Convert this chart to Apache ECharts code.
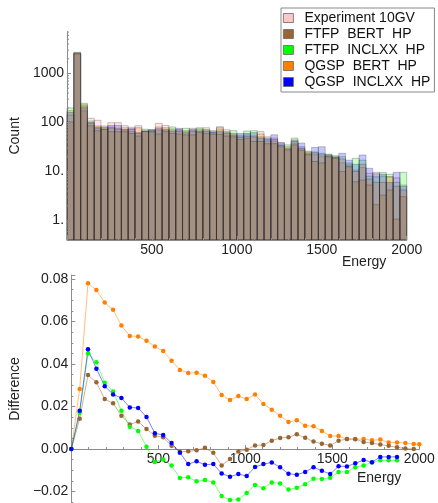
<!DOCTYPE html>
<html><head><meta charset="utf-8">
<script src="https://cdn.jsdelivr.net/npm/echarts@6/dist/echarts.min.js"></script>
<style>html,body{margin:0;padding:0;background:#fff}#c{width:438px;height:503px}</style>
</head><body><div id="c"></div>
<script>
// ---------- data ----------
const seriesNames = ['Experiment 10GV', 'FTFP  BERT  HP', 'FTFP  INCLXX  HP', 'QGSP  BERT  HP', 'QGSP  INCLXX  HP'];
const binWidth = 40; // histogram bins 0..2000
const countExperiment = [142,2600,172,122,111,85,99,99,86,80,86,68,66,96,87,74,72,65,76,74,78,61,82,71,60,51,56,50,65,51,48,38,30,38,32,24,22,20,20,19,15,14,10.7,12,9.2,9.6,8,7.8,7.4,5.3];
const countFtfpBert   = [103,2500,217,86,68,72,65,65,65,60,53,65,64,58,65,60,58,56,56,63,60,57,57,53,51,45,48,41,41,37,37,32,27.5,35,27,22,16,15,20,18.6,10,12.5,6.2,6.7,5.3,2.1,3.3,4.2,1.07,3.06];
const countFtfpInclxx = [198,2650,246,107,76,78,76,72,70,66,60,73,70,70,72,81,65,76,68,78,72,64,71,65,68,55,67,68,51,45,42,35,35,48,30,26,25,23.5,22.5,21,20,15,18.6,17,8,7.8,9.5,8.8,6,9.6];
const countQgspBert   = [174,2700,230,96,85,80,80,76,78,72,78,66,68,81,78,70,68,68,65,70,68,62,78,62,58,50,52,53,58,42,45,34,32,41,29,25,24,22,21,20,18,13,10,14,7,6,6,7.8,5,4.2];
const countQgspInclxx = [160,2550,200,100,80,74,87,87,72,75,62,66,72,75,70,66,76,62,72,66,66,68,65,60,55,60,60,62,48,48,56,39,29,44,38,23,31,32,22,19.5,23.5,17,14,21.7,11.6,9,8.8,6,9.6,5];

const diffEnergy = [0,48,96,144,192,240,288,336,384,432,480,528,576,624,672,720,768,816,864,912,960,1008,1056,1104,1152,1200,1248,1296,1344,1392,1440,1488,1536,1584,1632,1680,1728,1776,1824,1872,1920,1968,2000];
const diffFtfpBert   = [0,0.0143,0.0348,0.0314,0.0235,0.0215,0.0157,0.0116,0.0129,0.0094,0.0063,0.0055,0.0016,-0.0013,-0.0011,-0.0006,0.0006,-0.0018,-0.0077,-0.0047,-0.0012,-0.0003,0.0017,0.0019,0.0039,0.0052,0.0056,0.0069,0.0053,0.0035,0.0025,0.0017,0.0039,0.0047,0.0046,0.0033,0.0028,0.0021,0.0015,0.0008,0.0002,0];
const diffFtfpInclxx = [0,0.0171,0.045,0.0408,0.0312,0.0271,0.018,0.0105,0.0085,0.0011,-0.0061,-0.0049,-0.0078,-0.0136,-0.0133,-0.0152,-0.0146,-0.0157,-0.0221,-0.024,-0.0238,-0.0207,-0.0169,-0.0184,-0.0157,-0.0162,-0.019,-0.0182,-0.0166,-0.014,-0.0141,-0.0135,-0.0108,-0.0108,-0.0086,-0.0077,-0.0063,-0.0053,-0.0053,-0.0053];
const diffQgspBert   = [0,0.0283,0.078,0.0748,0.0689,0.0656,0.0581,0.0532,0.053,0.051,0.0482,0.0461,0.0416,0.0372,0.0358,0.0359,0.0345,0.0315,0.0254,0.0231,0.0249,0.0235,0.0257,0.0212,0.0185,0.0157,0.0127,0.0135,0.011,0.0107,0.0085,0.0061,0.0061,0.0047,0.0047,0.0047,0.0041,0.0045,0.0031,0.0031,0.0028,0.0024,0.0022];
const diffQgspInclxx = [0,0.018,0.0469,0.0378,0.0296,0.0257,0.024,0.0196,0.0193,0.0151,0.0074,0.0066,0.0028,-0.0017,-0.0071,-0.0058,-0.0074,-0.0071,-0.0115,-0.013,-0.0118,-0.0127,-0.0085,-0.0071,-0.0063,-0.0086,-0.0116,-0.0121,-0.0108,-0.0086,-0.0102,-0.0118,-0.0081,-0.0082,-0.0067,-0.0052,-0.0062,-0.0037,-0.0037,-0.0037];

const energyTicks = [500, 1000, 1500, 2000];
const countTickLabels = {1: '1.', 10: '10.', 100: '100', 1000: '1000'};

// ---------- styling ----------
const FONT = "'Liberation Sans', Arial, sans-serif";
const colors = {
  exp: 'rgb(255,200,200)', fb: 'rgb(153,102,51)', fi: 'rgb(0,255,0)', qb: 'rgb(255,128,0)', qi: 'rgb(0,0,255)'
};
const fills = {
  exp: 'rgba(255,170,180,0.30)', fb: 'rgba(153,102,51,0.28)', fi: 'rgba(0,255,0,0.22)', qb: 'rgba(255,128,0,0.25)', qi: 'rgba(0,0,255,0.22)'
};
const yMinTop = 0.4, yMaxTop = 7129;
const yMinDiff = -0.0254, yMaxDiff = 0.0819;

function hist(name, key, values) {
  return {
    type: 'custom', name: name, xAxisIndex: 0, yAxisIndex: 0, silent: true,
    itemStyle: { color: colors[key] },
    data: values.map((v, i) => [i * binWidth, (i + 1) * binWidth, v]),
    encode: { x: [0, 1], y: 2 },
    renderItem: function (params, api) {
      const p0 = api.coord([api.value(0), api.value(2)]);
      const p1 = api.coord([api.value(1), yMinTop]);
      return {
        type: 'rect',
        shape: { x: p0[0], y: p0[1], width: p1[0] - p0[0], height: p1[1] - p0[1] },
        style: { fill: fills[key], stroke: 'rgba(40,40,40,0.35)', lineWidth: 0.8 }
      };
    }
  };
}

// log-axis tick marks (major decades + minor 2..9)
const logTickVals = [];
for (let d = -1; d <= 3; d++) for (let m = 1; m <= 9; m++) {
  const v = m * Math.pow(10, d);
  if (v >= yMinTop && v <= yMaxTop) logTickVals.push([0, v, m === 1 ? 1 : 0]);
}

function diffLine(name, color, values) {
  return {
    type: 'line', name: name, xAxisIndex: 1, yAxisIndex: 1, silent: true,
    data: values.map((v, i) => [diffEnergy[i], v]),
    symbol: 'circle', symbolSize: 4.5, showSymbol: true,
    lineStyle: { color: color, width: 1, opacity: 0.5 },
    itemStyle: { color: color }
  };
}

const axisGray = '#8c8c8c';
const labelStyle = { color: '#222', fontSize: 14, fontFamily: FONT };
const diffGridTop = 275, diffGridHeight = 228;
// place bottom x axis on the zero line
const zeroOffset = -diffGridHeight * (0 - yMinDiff) / (yMaxDiff - yMinDiff);

const option = {
  animation: false,
  backgroundColor: '#fff',
  textStyle: { fontFamily: FONT },
  grid: [
    { left: 60.5, top: 31.7, width: 346.2, height: 208.3 },
    { left: 53.3, top: diffGridTop, width: 366, height: diffGridHeight }
  ],
  legend: {
    orient: 'vertical', left: 281, top: 8,
    data: seriesNames, icon: 'rect', itemWidth: 10, itemHeight: 9, itemGap: 2,
    padding: [3, 4, 3, 2], borderColor: '#888', borderWidth: 1,
    itemStyle: { borderColor: '#666', borderWidth: 0.8 },
    textStyle: { fontSize: 14, color: '#111', fontFamily: FONT, padding: [0, 0, 0, 6] },
    selectedMode: false
  },
  xAxis: [
    {
      type: 'value', gridIndex: 0, min: 0, max: 2000, interval: 500, z: 10,
      axisLine: { onZero: false, lineStyle: { color: axisGray } },
      axisTick: { inside: true, length: 4, lineStyle: { color: axisGray } },
      minorTick: { show: true, splitNumber: 5, length: 2, lineStyle: { color: axisGray } },
      splitLine: { show: false },
      axisLabel: Object.assign({ margin: 3, formatter: v => energyTicks.includes(v) ? String(v) : '' }, labelStyle)
    },
    {
      type: 'value', gridIndex: 1, min: 0, max: 2000, interval: 500, offset: zeroOffset,
      axisLine: { onZero: false, lineStyle: { color: axisGray } },
      axisTick: { inside: true, length: 4, lineStyle: { color: axisGray } },
      minorTick: { show: true, splitNumber: 5, length: 2, lineStyle: { color: axisGray } },
      splitLine: { show: false },
      axisLabel: Object.assign({ margin: 3, formatter: v => energyTicks.includes(v) ? String(v) : '' }, labelStyle)
    }
  ],
  yAxis: [
    {
      type: 'log', logBase: 10, gridIndex: 0, min: yMinTop, max: yMaxTop,
      axisLine: { show: true, lineStyle: { color: axisGray } },
      axisTick: { show: false },
      splitLine: { show: false },
      axisLabel: Object.assign({ margin: 3, showMinLabel: false, showMaxLabel: false, formatter: function (v) {
        for (const k in countTickLabels) { if (Math.abs(v - Number(k)) / Number(k) < 1e-6) return countTickLabels[k]; }
        return '';
      } }, labelStyle),
      name: 'Count', nameLocation: 'middle', nameGap: 32, nameRotate: 90,
      nameTextStyle: { color: '#222', fontSize: 14, fontFamily: FONT }
    },
    {
      type: 'value', gridIndex: 1, min: yMinDiff, max: yMaxDiff, splitNumber: 5,
      axisLine: { show: true, onZero: false, lineStyle: { color: axisGray } },
      axisTick: { inside: true, length: 4, lineStyle: { color: axisGray } },
      minorTick: { show: true, splitNumber: 4, length: 2, lineStyle: { color: axisGray } },
      splitLine: { show: false },
      axisLabel: Object.assign({ margin: 3, showMinLabel: false, showMaxLabel: false, formatter: function (v) {
        const r = Math.round(v / 0.02);
        if (Math.abs(v / 0.02 - r) > 1e-6) return '';
        const s = (r * 0.02).toFixed(2);
        return s.replace('-', '\u2212');
      } }, labelStyle),
      name: 'Difference', nameLocation: 'middle', nameGap: 35, nameRotate: 90,
      nameTextStyle: { color: '#222', fontSize: 14, fontFamily: FONT }
    }
  ],
  graphic: [
    { type: 'text', left: 342, top: 255, style: { text: 'Energy', font: '14px ' + FONT, fill: '#222' } },
    { type: 'text', left: 357, top: 471, style: { text: 'Energy', font: '14px ' + FONT, fill: '#222' } }
  ],
  series: [
    hist(seriesNames[0], 'exp', countExperiment),
    hist(seriesNames[2], 'fi', countFtfpInclxx),
    hist(seriesNames[3], 'qb', countQgspBert),
    hist(seriesNames[4], 'qi', countQgspInclxx),
    hist(seriesNames[1], 'fb', countFtfpBert),
    {
      type: 'custom', xAxisIndex: 0, yAxisIndex: 0, silent: true, z: 5,
      data: logTickVals, encode: { x: 0, y: 1 },
      renderItem: function (params, api) {
        const p = api.coord([0, api.value(1)]);
        const len = api.value(2) ? 4 : 2;
        return { type: 'line', shape: { x1: p[0], y1: p[1], x2: p[0] + len, y2: p[1] }, style: { stroke: axisGray, lineWidth: 1 } };
      }
    },
    diffLine('QGSP BERT diff', colors.qb, diffQgspBert),
    diffLine('FTFP BERT diff', colors.fb, diffFtfpBert),
    diffLine('FTFP INCLXX diff', colors.fi, diffFtfpInclxx),
    diffLine('QGSP INCLXX diff', colors.qi, diffQgspInclxx)
  ]
};

const chart = echarts.init(document.getElementById('c'), null, { renderer: 'canvas' });
chart.setOption(option);
</script>
</body></html>
